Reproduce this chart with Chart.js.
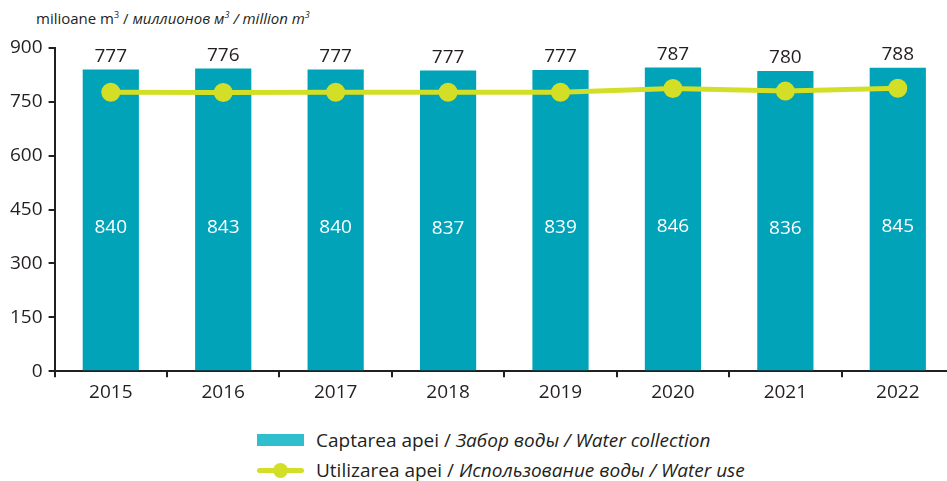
<!DOCTYPE html>
<html>
<head>
<meta charset="utf-8">
<script src="https://cdn.jsdelivr.net/npm/chart.js@4"></script>
<style>
  html, body { margin: 0; padding: 0; background: #fff; overflow: hidden; }
  body { width: 947px; height: 481px; position: relative; font-family: "Open Sans", sans-serif; color: #231f20; }
  #unit { position: absolute; left: 36px; top: 8px; font-size: 15px; white-space: nowrap; }
  #wrap { position: absolute; left: 0; top: 0; width: 966px; height: 408px; }
  #legend { position: absolute; left: 257px; top: 425px; font-size: 19px; }
  .row { height: 30px; display: flex; align-items: center; white-space: nowrap; }
  .sw { width: 47px; height: 12px; background: #30bfcf; margin-right: 12px; }
  .ln { width: 47px; height: 5px; background: #d3df26; margin-right: 12px; position: relative; border-radius: 3px; }
  .ln:after { content: ""; position: absolute; left: 16px; top: -5px; width: 15px; height: 15px; border-radius: 50%; background: #d3df26; }
  i { font-style: italic; }
</style>
</head>
<body>
<div id="unit">milioane m<sup style="font-size:9px">3</sup> / <i>миллионов м<sup style="font-size:9px">3</sup> / million m<sup style="font-size:9px">3</sup></i></div>
<div id="wrap"><canvas id="chart"></canvas></div>
<div id="legend"></div>
<script>
const years = ['2015', '2016', '2017', '2018', '2019', '2020', '2021', '2022'];
const collection = [840, 843, 840, 837, 839, 846, 836, 845];
const use = [777, 776, 777, 777, 777, 787, 780, 788];
const yTicks = [0, 150, 300, 450, 600, 750, 900];

const legendNames = [
  ['Captarea apei / ', 'Забор воды / Water collection'],
  ['Utilizarea apei / ', 'Использование воды / Water use']
];

const textColor = '#231f20';
const font = '"Open Sans", sans-serif';

const labelsPlugin = {
  id: 'valueLabels',
  afterDatasetsDraw(chart) {
    const ctx = chart.ctx;
    const bars = chart.getDatasetMeta(1).data;
    ctx.save();
    ctx.font = '19px ' + font;
    ctx.textAlign = 'center';
    ctx.textBaseline = 'middle';
    bars.forEach(function (bar, i) {
      ctx.fillStyle = '#ffffff';
      ctx.fillText(collection[i], bar.x, (bar.y + bar.base) / 2 + 8);
      ctx.fillStyle = textColor;
      ctx.fillText(use[i], bar.x, bar.y - 13);
    });
    ctx.restore();
  }
};

new Chart(document.getElementById('chart'), {
  type: 'bar',
  data: {
    labels: years,
    datasets: [
      {
        type: 'line',
        label: legendNames[1].join(''),
        data: use,
        borderColor: '#d3df26',
        backgroundColor: '#d3df26',
        borderWidth: 5,
        pointRadius: 7,
        pointHoverRadius: 7,
        tension: 0,
        order: 0
      },
      {
        type: 'bar',
        label: legendNames[0].join(''),
        data: collection,
        backgroundColor: '#00a3b8',
        barPercentage: 0.5,
        categoryPercentage: 1,
        order: 1
      }
    ]
  },
  options: {
    responsive: true,
    maintainAspectRatio: false,
    animation: false,
    layout: { padding: { top: 48, left: 4, right: 8, bottom: 0 } },
    plugins: {
      legend: { display: false },
      tooltip: { enabled: false }
    },
    scales: {
      x: {
        grid: { display: true, drawOnChartArea: false, color: textColor, tickLength: 6, lineWidth: 2 },
        border: { color: textColor, width: 2 },
        ticks: { color: textColor, font: { family: font, size: 19 }, padding: 4 }
      },
      y: {
        min: 0,
        max: 900,
        afterBuildTicks(axis) { axis.ticks = yTicks.map(v => ({ value: v })); },
        grid: { display: true, drawOnChartArea: false, color: textColor, tickLength: 6, lineWidth: 2 },
        border: { color: textColor, width: 2 },
        ticks: { color: textColor, font: { family: font, size: 19 }, padding: 6 }
      }
    }
  },
  plugins: [labelsPlugin]
});

const legend = document.getElementById('legend');
legendNames.forEach(function (n, i) {
  const row = document.createElement('div');
  row.className = 'row';
  const mark = document.createElement('div');
  mark.className = i === 0 ? 'sw' : 'ln';
  const txt = document.createElement('span');
  txt.textContent = n[0];
  const it = document.createElement('i');
  it.textContent = n[1];
  txt.appendChild(it);
  row.appendChild(mark);
  row.appendChild(txt);
  legend.appendChild(row);
});
</script>
</body>
</html>
